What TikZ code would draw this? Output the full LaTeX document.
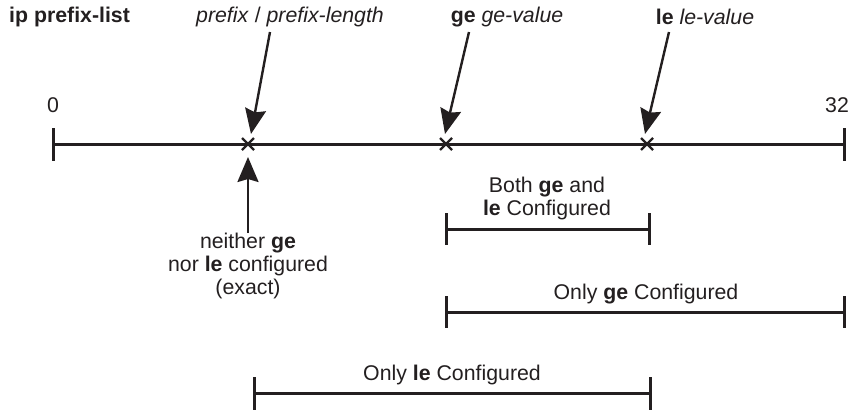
\documentclass[tikz,border=0pt]{standalone}
\usepackage{fontspec}
\setmainfont{Liberation Sans}
\usetikzlibrary{arrows.meta,calc}
\definecolor{ink}{HTML}{231F20}
\begin{document}
\begin{tikzpicture}[x=1pt,y=-1pt,
  lbl/.style={font=\fontsize{21.3}{23}\selectfont, inner sep=0pt, align=center, text=ink},
  axis/.style={line width=3pt, draw=ink},
  rng/.style={line width=3pt, draw=ink},
  cross/.style={line width=2.3pt, draw=ink},
  pointer/.style={line width=2.4pt, draw=ink, fill=ink, -{Stealth[length=25pt,width=21pt,inset=3pt]}}]
\useasboundingbox (0,0) rectangle (854,410);
% axis
\coordinate (a0) at (53,144);
\coordinate (a32) at (844,144);
\draw[axis] (a0) -- (a32);
\draw[axis] (53,128) -- (53,161);
\draw[axis] (844,128) -- (844,161);
\node[lbl] (z0) at (53,105) {0};
\node[lbl] (z32) at (837,105) {32};
% crosses
\coordinate (px) at (248,144);
\coordinate (gx) at (446,144);
\coordinate (lx) at (647,144);
\foreach \p in {px,gx,lx}{
  \draw[cross] ($(\p)+(-6,-6)$) -- ($(\p)+(6,6)$);
  \draw[cross] ($(\p)+(-6,6)$) -- ($(\p)+(6,-6)$);
}
% top labels
\node[lbl, font=\fontsize{21.3}{23}\selectfont\bfseries, anchor=west] (title) at (9,17) {ip prefix-list};
\node[lbl] (tp) at (290,17) {\textit{prefix} / \textit{prefix-length}};
\node[lbl] (tg) at (507,17) {\textbf{ge} \textit{ge-value}};
\node[lbl] (tl) at (705,17) {\textbf{le} \textit{le-value}};
\coordinate (pt) at (251,134);
\coordinate (gt) at (445,134);
\coordinate (lt) at (645,134);
\draw[pointer] (270,32) -- (pt);
\draw[pointer] (469,32) -- (gt);
\draw[pointer] (669,32) -- (lt);
% exact
\node[lbl, anchor=north] (ex) at (248,233) {neither \textbf{ge}\\nor \textbf{le} configured\\(exact)};
\coordinate (et) at (248,157);
\draw[pointer] (ex.north) -- (et);
% both
\node[lbl] (both) at (547,198) {Both \textbf{ge} and\\\textbf{le} Configured};
\draw[rng] (446,229) -- (649,229);
\draw[rng] (446,213) -- (446,245);
\draw[rng] (649,213) -- (649,245);
% only ge
\node[lbl] (oge) at (646,294) {Only \textbf{ge} Configured};
\draw[rng] (446,312) -- (844,312);
\draw[rng] (446,296) -- (446,328);
\draw[rng] (844,296) -- (844,328);
% only le
\node[lbl] (ole) at (452,375) {Only \textbf{le} Configured};
\draw[rng] (254,393) -- (650,393);
\draw[rng] (254,377) -- (254,410);
\draw[rng] (650,377) -- (650,410);
\end{tikzpicture}
\end{document}
